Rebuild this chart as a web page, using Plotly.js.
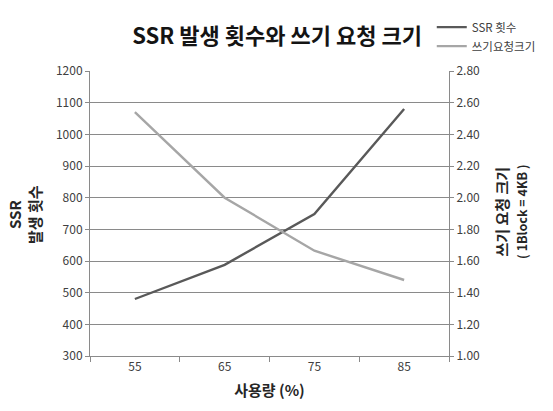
<!DOCTYPE html>
<html>
<head>
<meta charset="utf-8">
<script src="https://cdn.plot.ly/plotly-3.0.1.min.js"></script>
<style>
  html, body { margin: 0; padding: 0; background: #ffffff; overflow: hidden; }
  #chart { width: 553px; height: 411px; }
</style>
</head>
<body>
<div id="chart"></div>
<script>
// Disk usage levels (%) on the category axis
const usage = ['55', '65', '75', '85'];
// Number of SSR occurrences (left axis)
const ssrCount = [480, 588, 748, 1080];
// Write request size in blocks, 1 block = 4KB (right axis)
const writeSize = [2.54, 2.00, 1.665, 1.48];

const seriesNames = ['SSR 횟수', '쓰기요청크기'];

const KFONT = '"Noto Sans CJK KR", "Noto Sans", sans-serif';
const GRID = '#8a8a8a';
const LABEL = '#404040';

const traces = [
  {
    x: usage, y: ssrCount, name: seriesNames[0],
    type: 'scatter', mode: 'lines', yaxis: 'y',
    line: { color: '#595959', width: 2.4 },
    hoverinfo: 'skip'
  },
  {
    x: usage, y: writeSize, name: seriesNames[1],
    type: 'scatter', mode: 'lines', yaxis: 'y2',
    line: { color: '#a6a6a6', width: 2.4 },
    hoverinfo: 'skip'
  }
];

const layout = {
  width: 553, height: 411,
  margin: { l: 90, r: 89, t: 60, b: 55 },
  paper_bgcolor: '#ffffff', plot_bgcolor: '#ffffff',
  font: { family: KFONT, size: 12, color: LABEL },
  title: {
    text: '<b>SSR 발생 횟수와 쓰기 요청 크기</b>',
    font: { family: KFONT, size: 22, color: '#141414' },
    x: 0.501, xanchor: 'center', xref: 'container',
    y: 0.912, yanchor: 'middle', yref: 'container'
  },
  showlegend: true,
  legend: {
    x: 0.952, xanchor: 'left', y: 1.205, yanchor: 'top',
    font: { family: KFONT, size: 11.5, color: LABEL },
    bgcolor: 'rgba(0,0,0,0)', borderwidth: 0,
    tracegroupgap: 0
  },
  xaxis: {
    type: 'category',
    range: [-0.5, 3.5],
    tickson: 'boundaries',
    ticks: 'outside', ticklen: 5, tickcolor: GRID, tickwidth: 1,
    showline: true, linecolor: GRID, linewidth: 1,
    showgrid: false, zeroline: false,
    tickfont: { family: KFONT, size: 12, color: LABEL },
    title: {
      text: '<b>사용량 (%)</b>',
      font: { family: KFONT, size: 15, color: '#262626' },
      standoff: 12
    },
    automargin: false,
    fixedrange: true
  },
  yaxis: {
    range: [300, 1200], dtick: 100, tick0: 300,
    ticks: 'outside', ticklen: 4, tickcolor: GRID, tickwidth: 1,
    showline: true, linecolor: GRID, linewidth: 1,
    showgrid: true, gridcolor: GRID, gridwidth: 1,
    zeroline: false,
    tickfont: { family: KFONT, size: 12, color: LABEL },
    automargin: false,
    fixedrange: true
  },
  yaxis2: {
    overlaying: 'y', side: 'right',
    range: [1.0, 2.8], dtick: 0.2, tick0: 1.0,
    tickformat: '.2f',
    ticks: 'outside', ticklen: 4, tickcolor: GRID, tickwidth: 1,
    showline: true, linecolor: GRID, linewidth: 1,
    showgrid: false, zeroline: false,
    tickfont: { family: KFONT, size: 12, color: LABEL },
    automargin: false,
    fixedrange: true
  },
  annotations: [
    {
      text: '<b>SSR<br>발생 횟수</b>',
      xref: 'paper', yref: 'paper',
      x: -0.182, y: 0.497, xanchor: 'center', yanchor: 'middle',
      textangle: -90, showarrow: false,
      font: { family: KFONT, size: 15, color: '#262626' }
    },
    {
      text: '<b>쓰기 요청 크기<br><span style="font-size:12.5px">( 1Block = 4KB )</span></b>',
      xref: 'paper', yref: 'paper',
      x: 1.1738, y: 0.507, xanchor: 'center', yanchor: 'middle',
      textangle: -90, showarrow: false,
      font: { family: KFONT, size: 15, color: '#262626' }
    }
  ]
};

Plotly.newPlot('chart', traces, layout, { staticPlot: true, displayModeBar: false });
</script>
</body>
</html>
